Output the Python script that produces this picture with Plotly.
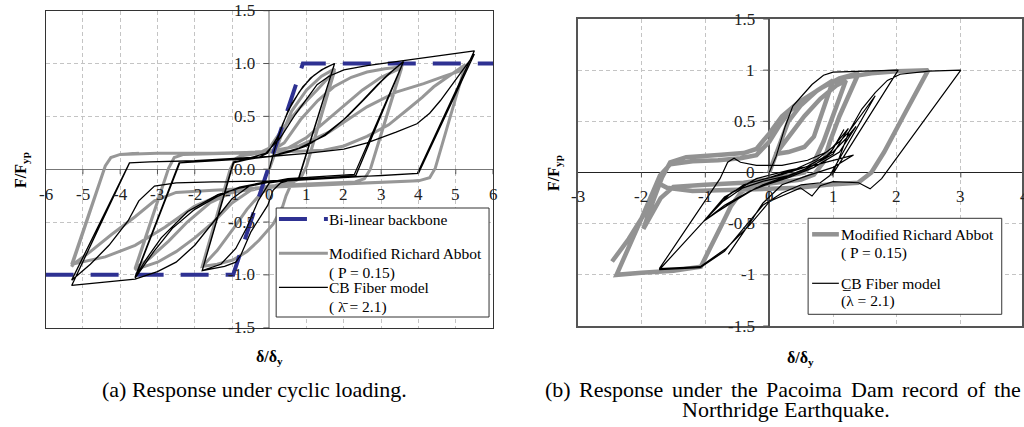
import plotly.graph_objects as go

FONT = "Liberation Serif"

# ---------------- (a) cyclic loading ----------------
bilinear_x = [-6, -0.97, 0.9, 6]
bilinear_y = [-1.0, -1.0, 1.0, 1.0]

# CB fiber model, panel (a): (delta/delta_y, F/F_yp)
cb_a_pts = [
    (0, 0), (0.15, 0.2), (0.35, 0.42), (0.6, 0.62), (0.9, 0.78), (1.2, 0.89), (1.5, 0.96), (1.75, 1.0),
    (0.8, -0.08),
    (0.3, -0.13), (0.1, -0.2), (-0.04, -0.34), (-0.49, -0.59), (-0.76, -0.81), (-0.9, -0.88), (-1.2, -0.92), (-1.8, -0.96),
    (-0.97, 0.06),
    (-0.6, 0.09), (-0.3, 0.11), (-0.05, 0.15), (0.25, 0.32), (0.5, 0.55), (0.8, 0.73), (1.1, 0.86), (1.4, 0.94), (1.75, 1.0),
    (0.78, -0.09),
    (0.4, -0.11), (0.0, -0.13), (-0.3, -0.3), (-0.6, -0.55), (-0.9, -0.75), (-1.3, -0.9), (-1.8, -0.96),
    (-0.95, 0.07),
    (-0.5, 0.1), (0.0, 0.12), (0.5, 0.16), (1.0, 0.22), (1.5, 0.33), (2.0, 0.47), (2.5, 0.65), (2.9, 0.8), (3.2, 0.9), (3.6, 1.02),
    (2.28, -0.05),
    (1.5, -0.07), (0.5, -0.09), (-0.1, -0.13), (-0.8, -0.18), (-1.38, -0.24), (-2.19, -0.4), (-2.9, -0.65), (-3.3, -0.85), (-3.6, -1.02),
    (-2.42, 0.06),
    (-1.5, 0.08), (-0.5, 0.1), (0.0, 0.12), (0.8, 0.2), (1.5, 0.32), (2.1, 0.5), (2.6, 0.68), (3.0, 0.83), (3.3, 0.93), (3.6, 1.02),
    (2.32, -0.06),
    (1.5, -0.08), (0.5, -0.1), (-0.1, -0.12), (-0.8, -0.17), (-1.4, -0.26), (-2.0, -0.38), (-2.6, -0.56), (-3.1, -0.78), (-3.6, -1.03),
    (-2.4, 0.06),
    (-1.5, 0.08), (-0.6, 0.1), (-0.1, 0.15), (0.3, 0.3), (0.7, 0.52), (1.28, 0.8), (1.6, 0.88), (2.0, 0.94), (2.62, 0.98), (3.6, 1.03), (4.5, 1.07), (5.5, 1.12),
    (3.97, -0.04),
    (3.0, -0.06), (2.0, -0.08), (1.0, -0.1), (0.0, -0.12), (-0.5, -0.15), (-1.0, -0.28), (-1.5, -0.5), (-2.0, -0.72), (-2.5, -0.88), (-3.0, -0.97), (-3.6, -1.04), (-4.4, -1.07), (-5.3, -1.1),
    (-3.75, 0.06),
    (-3.2, 0.07), (-2.0, 0.08), (-1.0, 0.1), (0.0, 0.12), (1.0, 0.15), (2.0, 0.19), (2.62, 0.25), (3.4, 0.35), (3.96, 0.43), (4.3, 0.53), (4.59, 0.65), (4.9, 0.8), (5.2, 0.95), (5.5, 1.09),
    (4.0, -0.04),
    (3.0, -0.06), (1.5, -0.08), (0.0, -0.11), (-1.5, -0.12), (-2.5, -0.13), (-3.08, -0.16), (-3.5, -0.3), (-3.79, -0.49), (-4.3, -0.72), (-4.8, -0.9), (-5.3, -1.05),
    (-3.75, 0.06),
]

# Modified Richard Abbot, panel (a)
mra_a_pts = [
    (0, 0), (0.3, 0.3), (0.6, 0.55), (1.0, 0.75), (1.4, 0.88), (1.75, 0.95),
    (1.0, 0.03), (0.85, -0.08), (0.6, -0.13), (0.45, -0.25), (0.36, -0.35), (0.1, -0.52), (-0.27, -0.67), (-0.6, -0.78), (-0.98, -0.86), (-1.4, -0.9), (-1.8, -0.92),
    (-1.05, 0.0), (-0.9, 0.1), (-0.7, 0.13),
    (-0.3, 0.15), (0.0, 0.2), (0.39, 0.4), (0.84, 0.59), (1.28, 0.75), (1.6, 0.87), (1.75, 0.93),
    (1.0, 0.03), (0.85, -0.08), (0.6, -0.12),
    (0.2, -0.15), (-0.2, -0.22), (-0.6, -0.38), (-1.0, -0.58), (-1.4, -0.77), (-1.8, -0.92),
    (-1.05, 0.0), (-0.9, 0.1), (-0.7, 0.14),
    (0.0, 0.16), (0.4, 0.25), (0.84, 0.47), (1.3, 0.65), (1.73, 0.78), (2.2, 0.87), (2.62, 0.92), (3.1, 0.95), (3.55, 0.97),
    (2.71, 0.0), (2.55, -0.09), (2.3, -0.12),
    (1.0, -0.14), (0.0, -0.16), (-0.5, -0.2), (-1.0, -0.32), (-1.5, -0.5), (-2.0, -0.65), (-2.5, -0.78), (-3.0, -0.88), (-3.6, -0.95),
    (-2.7, 0.01), (-2.55, 0.11), (-2.3, 0.14),
    (-1.0, 0.15), (0.0, 0.16), (0.5, 0.2), (1.0, 0.3), (1.5, 0.45), (2.0, 0.6), (2.5, 0.75), (3.0, 0.87), (3.55, 0.96),
    (2.71, 0.0), (2.55, -0.09), (2.3, -0.12),
    (1.0, -0.14), (0.0, -0.16), (-1.0, -0.22), (-1.6, -0.32), (-2.2, -0.5), (-2.7, -0.68), (-3.2, -0.84), (-3.6, -0.94),
    (-2.7, 0.01), (-2.55, 0.11), (-2.3, 0.14),
    (-1.0, 0.15), (0.0, 0.17), (0.8, 0.22), (1.6, 0.35), (2.62, 0.59), (3.4, 0.73), (4.14, 0.81), (4.7, 0.88), (5.12, 0.93), (5.26, 0.99),
    (4.45, 0.01), (4.3, -0.08), (4.0, -0.11),
    (2.5, -0.13), (1.0, -0.15), (0.0, -0.17), (-1.0, -0.2), (-2.0, -0.35), (-2.8, -0.55), (-3.6, -0.72), (-4.4, -0.83), (-5.3, -0.9),
    (-4.4, 0.03), (-4.25, 0.11), (-4.0, 0.14),
    (-3.0, 0.15), (-1.5, 0.15), (0.0, 0.16), (0.8, 0.17), (1.46, 0.18), (2.0, 0.22), (2.62, 0.31), (3.2, 0.42), (3.69, 0.56), (4.1, 0.68), (4.41, 0.78), (4.9, 0.9), (5.26, 0.99),
    (4.45, 0.01), (4.3, -0.08), (4.0, -0.11),
    (2.0, -0.14), (0.0, -0.17), (-1.5, -0.2), (-2.5, -0.22), (-3.08, -0.3), (-3.6, -0.45), (-4.24, -0.62), (-4.8, -0.78), (-5.22, -0.89), (-5.3, -0.92),
    (-4.4, 0.03), (-4.25, 0.11), (-4.0, 0.14), (-3.5, 0.15),
]

# ---------------- (b) Pacoima Dam record ----------------
cb_b_pts = [
    (0, 0), (0.05, 0.08), (0.11, 0.16), (0.25, 0.45), (0.37, 0.65), (0.5, 0.74), (0.67, 0.86), (0.85, 0.95), (1.0, 0.98), (1.5, 0.99), (2.02, 1.0),
    (0.98, -0.03),
    (1.1, 0.15), (1.25, 0.4), (1.45, 0.62), (1.66, 0.78), (1.85, 0.9), (2.05, 0.96), (2.5, 0.99), (3.0, 1.0),
    (1.76, -0.06), (1.58, -0.16), (1.4, -0.1), (1.0, -0.09), (0.8, -0.13), (0.67, -0.23), (0.49, -0.15), (0.01, -0.28), (-0.3, -0.51), (-0.67, -0.74), (-1.08, -0.92), (-1.72, -0.94),
    (-0.77, -0.06), (-0.65, 0.1), (-0.55, 0.14), (-0.45, 0.1), (-0.2, 0.07), (0.2, 0.07), (0.6, 0.12), (0.9, 0.2), (1.1, 0.3), (1.25, 0.4), (1.4, 0.53), (1.66, 0.75),
    (0.95, -0.03), (0.8, -0.1), (0.5, -0.12), (0.2, -0.2), (-0.1, -0.32), (-0.4, -0.55), (-0.7, -0.77), (-1.08, -0.93), (-1.72, -0.95),
    (-1.03, -0.48),
    (-0.72, -0.28), (-0.41, -0.15), (-0.09, -0.085), (0.3, -0.03), (0.6, 0.04), (0.85, 0.13), (1.0, 0.23), (1.17, 0.42),
    (0.95, 0.18), (0.7, 0.07), (0.3, -0.03), (-0.1, -0.12), (-0.5, -0.25), (-1.03, -0.48),
    (-0.72, -0.26), (-0.4, -0.12), (0.0, -0.05), (0.4, 0.03), (0.75, 0.13), (1.0, 0.25), (1.24, 0.43),
    (1.0, 0.18), (0.6, 0.04), (0.2, -0.06), (-0.3, -0.18), (-0.7, -0.32), (-1.03, -0.48),
    (-0.7, -0.24), (-0.3, -0.1), (0.2, -0.02), (0.6, 0.06), (1.0, 0.2), (1.2, 0.33), (1.36, 0.45),
    (1.1, 0.2), (0.7, 0.05), (0.3, -0.05), (-0.2, -0.15), (-0.6, -0.3), (-1.0, -0.46),
    (-0.6, -0.2), (-0.2, -0.06), (0.3, 0.02), (0.7, 0.07), (1.0, 0.12), (1.32, 0.17),
    (1.0, 0.05), (0.6, -0.03), (0.2, -0.12), (-0.1, -0.3), (-0.3, -0.49), (-0.64, -0.8),
]

mra_b_pts = [
    (0, 0), (0.15, 0.25), (0.3, 0.5), (0.5, 0.66), (0.75, 0.8), (1.0, 0.9),
    (0.82, 0.55), (0.7, 0.35), (0.55, 0.25), (0.3, 0.2), (0.1, 0.18), (0.3, 0.35), (0.55, 0.55), (0.8, 0.72), (1.05, 0.85), (1.2, 0.9),
    (1.0, 0.55), (0.85, 0.3), (0.7, 0.1), (0.55, 0.0), (0.1, -0.06), (-0.4, -0.1), (-1.0, -0.12), (-1.5, -0.14), (-1.7, -0.25), (-1.85, -0.42), (-1.97, -0.55),
    (-1.8, -0.25), (-1.68, -0.05), (-1.55, 0.1), (-1.3, 0.15), (-0.8, 0.17), (-0.4, 0.19), (-0.2, 0.23), (0.0, 0.38), (0.2, 0.55), (0.45, 0.68), (0.8, 0.82), (1.1, 0.92), (1.4, 0.97),
    (1.1, 0.55), (0.95, 0.3), (0.85, 0.1), (0.7, -0.02), (0.5, -0.07), (0.1, -0.1), (-0.3, -0.13), (-0.45, -0.2), (-0.6, -0.33), (-0.75, -0.52), (-0.87, -0.66), (-0.95, -0.77), (-1.07, -0.92), (-1.5, -0.96), (-2.0, -0.98), (-2.39, -1.0),
    (-2.0, -0.45), (-1.8, -0.15), (-1.71, -0.03), (-1.55, 0.08), (-1.2, 0.11), (-0.8, 0.12), (-0.45, 0.14), (-0.2, 0.17), (0.0, 0.3), (0.15, 0.45), (0.32, 0.6), (0.6, 0.74), (0.9, 0.86), (1.2, 0.93), (1.6, 0.97), (2.0, 0.99), (2.49, 1.0),
    (2.1, 0.55), (1.8, 0.2), (1.6, 0.0), (1.45, -0.08), (1.39, -0.1), (0.9, -0.12), (0.46, -0.15), (0.0, -0.16), (-0.6, -0.17), (-1.2, -0.18), (-1.6, -0.15), (-1.75, -0.1), (-1.95, -0.4), (-2.2, -0.65), (-2.46, -0.87),
]

# tick labels
a_xticks = [-6, -5, -4, -3, -2, -1, 0, 1, 2, 3, 4, 5, 6]
a_yticks = [1.5, 1.0, 0.5, 0.0, -0.5, -1.0, -1.5]
a_ylabels = ["1.5", "1.0", "0.5", "0.0", "-0.5", "-1.0", "-1.5"]
b_xticks = [-3, -2, -1, 0, 1, 2, 3]
b_yticks = [1.5, 1.0, 0.5, 0.0, -0.5, -1.0, -1.5]
b_ylabels = ["1.5", "1", "0.5", "0", "-0.5", "-1", "-1.5"]

GRAY = "#979797"
BLUE = "#2e3192"


def xs(p):
    return [a for a, b in p]


def ys(p):
    return [b for a, b in p]


def PX(v):
    return v / 1024.0


def PY(v):
    return 1 - v / 427.0


fig = go.Figure()
fig.add_trace(go.Scatter(x=xs(mra_a_pts), y=ys(mra_a_pts), mode="lines",
                         line=dict(color=GRAY, width=3), xaxis="x", yaxis="y"))
fig.add_trace(go.Scatter(x=bilinear_x, y=bilinear_y, mode="lines",
                         line=dict(color=BLUE, width=4, dash="28px,17px"), xaxis="x", yaxis="y"))
fig.add_trace(go.Scatter(x=xs(cb_a_pts), y=ys(cb_a_pts), mode="lines",
                         line=dict(color="black", width=1.3), xaxis="x", yaxis="y"))
fig.add_trace(go.Scatter(x=xs(mra_b_pts), y=ys(mra_b_pts), mode="lines",
                         line=dict(color="#929292", width=4.5), xaxis="x2", yaxis="y2"))
fig.add_trace(go.Scatter(x=xs(cb_b_pts), y=ys(cb_b_pts), mode="lines",
                         line=dict(color="black", width=1.2), xaxis="x2", yaxis="y2"))

grid = dict(showgrid=True, gridcolor="#c4c4c4", griddash="4px,3px", gridwidth=1,
            showticklabels=False, ticks="", showline=True, mirror=True)

fig.update_layout(
    width=1024, height=427, margin=dict(l=0, r=0, t=0, b=0),
    paper_bgcolor="white", plot_bgcolor="white", showlegend=False,
    font=dict(family=FONT, color="black"),
    xaxis=dict(domain=[PX(45.7), PX(494)], range=[-6, 6], dtick=1, zeroline=True,
               zerolinecolor="#b2b2b2", zerolinewidth=2, linecolor="#333333", linewidth=1,
               anchor="y", **grid),
    yaxis=dict(domain=[PY(327.7), PY(10.7)], range=[-1.5, 1.5], dtick=0.5, zeroline=True,
               zerolinecolor="#777777", zerolinewidth=1, linecolor="#333333", linewidth=1,
               anchor="x", **grid),
    xaxis2=dict(domain=[PX(578.7), 1.0], range=[-3, (1024 - 770.7) / 64.0], dtick=1, zeroline=True,
                zerolinecolor="#555555", zerolinewidth=1.5, linecolor="#555555", linewidth=1.5,
                anchor="y2", **grid),
    yaxis2=dict(domain=[PY(326), PY(19)], range=[-1.5, 1.5], dtick=0.5, zeroline=True,
                zerolinecolor="#222222", zerolinewidth=1, linecolor="#555555", linewidth=1.5,
                anchor="x2", **grid),
)

shapes = []
ann = []
TICKF = dict(family=FONT, size=17, color="#222222")

# small tick marks and tick labels, panel (a)
for v, lab in zip(a_yticks, a_ylabels):
    shapes.append(dict(type="line", xref="x", yref="y", xsizemode="pixel", xanchor=0,
                       x0=-6, x1=0, y0=v, y1=v, line=dict(color="#555555", width=1)))
    ann.append(dict(xref="x", yref="y", x=0, y=v, text=lab, showarrow=False,
                    xanchor="right", yanchor="middle", xshift=-12, font=TICKF))
for v in a_xticks:
    shapes.append(dict(type="line", xref="x", yref="y", ysizemode="pixel", yanchor=0,
                       x0=v, x1=v, y0=-5, y1=0, line=dict(color="#555555", width=1)))
    ann.append(dict(xref="x", yref="y", x=v, y=0, text=str(v), showarrow=False,
                    xanchor="center", yanchor="middle", yshift=-25, font=TICKF))

# panel (b)
for v, lab in zip(b_yticks, b_ylabels):
    shapes.append(dict(type="line", xref="x2", yref="y2", xsizemode="pixel", xanchor=0,
                       x0=-6, x1=0, y0=v, y1=v, line=dict(color="#555555", width=1)))
    ann.append(dict(xref="x2", yref="y2", x=0, y=v, text=lab, showarrow=False,
                    xanchor="right", yanchor="middle", xshift=-12, font=TICKF))
for v in b_xticks:
    shapes.append(dict(type="line", xref="x2", yref="y2", ysizemode="pixel", yanchor=0,
                       x0=v, x1=v, y0=-5, y1=0, line=dict(color="#555555", width=1)))
    ann.append(dict(xref="x2", yref="y2", x=v, y=0, text=str(v), showarrow=False,
                    xanchor="center", yanchor="middle", yshift=-24, font=TICKF))
ann.append(dict(xref="paper", yref="y2", x=PX(770.7 + 4 * 64), y=0, text="4", showarrow=False,
                xanchor="center", yanchor="middle", yshift=-24, font=TICKF))

# axis titles
TF = dict(family=FONT, size=16, color="black")
ann.append(dict(xref="paper", yref="paper", x=PX(21), y=PY(170), text="<b>F/F<sub>yp</sub></b>",
                textangle=-90, showarrow=False, xanchor="center", yanchor="middle", font=TF))
ann.append(dict(xref="paper", yref="paper", x=PX(555), y=PY(173), text="<b>F/F<sub>yp</sub></b>",
                textangle=-90, showarrow=False, xanchor="center", yanchor="middle", font=TF))
ann.append(dict(xref="paper", yref="paper", x=PX(270), y=PY(357), text="<b>δ/δ<sub>y</sub></b>",
                showarrow=False, xanchor="center", yanchor="middle", font=TF))
ann.append(dict(xref="paper", yref="paper", x=PX(802), y=PY(358), text="<b>δ/δ<sub>y</sub></b>",
                showarrow=False, xanchor="center", yanchor="middle", font=TF))

# captions
CF = dict(family=FONT, size=22, color="black")
ann.append(dict(xref="paper", yref="paper", x=PX(255), y=PY(389), text="(a) Response under cyclic loading.",
                showarrow=False, xanchor="center", yanchor="middle", font=CF))
cap_words = ["(b)", "Response", "under", "the", "Pacoima", "Dam", "record", "of", "the"]
cap_word_x = [545, 579.4, 672.5, 731.3, 766.9, 851.4, 902.9, 967.9, 995]
for w, x in zip(cap_words, cap_word_x):
    ann.append(dict(xref="paper", yref="paper", x=PX(x), y=PY(389), text=w, showarrow=False,
                    xanchor="left", yanchor="middle", font=CF, borderpad=0))
ann.append(dict(xref="paper", yref="paper", x=PX(788), y=PY(409), text="Northridge Earthquake.",
                showarrow=False, xanchor="center", yanchor="middle", font=CF))

# legend (a)
LF = dict(family=FONT, size=15.5, color="black")
shapes.append(dict(type="rect", xref="paper", yref="paper", x0=PX(276.7), x1=PX(490), y0=PY(317), y1=PY(208),
                   line=dict(color="#333333", width=1), fillcolor="white", layer="above"))
shapes.append(dict(type="line", xref="paper", yref="paper", x0=PX(279.5), x1=PX(328.5), y0=PY(219), y1=PY(219),
                   line=dict(color=BLUE, width=4, dash="28px,17px"), layer="above"))
shapes.append(dict(type="line", xref="paper", yref="paper", x0=PX(279.5), x1=PX(328.5), y0=PY(253.3), y1=PY(253.3),
                   line=dict(color=GRAY, width=3), layer="above"))
shapes.append(dict(type="line", xref="paper", yref="paper", x0=PX(279.5), x1=PX(328.5), y0=PY(287.3), y1=PY(287.3),
                   line=dict(color="black", width=1.3), layer="above"))
for t, yy in [("Bi-linear backbone", 219), ("Modified Richard Abbot", 253.3), ("( P = 0.15)", 272.7),
              ("CB Fiber model", 287.3), ("( λ\u0304 = 2.1)", 307)]:
    ann.append(dict(xref="paper", yref="paper", x=PX(329), y=PY(yy), text=t, showarrow=False,
                    xanchor="left", yanchor="middle", font=LF, borderpad=0))

# legend (b)
shapes.append(dict(type="rect", xref="paper", yref="paper", x0=PX(809.7), x1=PX(1003.7), y0=PY(314.3), y1=PY(218.3),
                   line=dict(color="#333333", width=1), fillcolor="white", layer="above"))
shapes.append(dict(type="line", xref="paper", yref="paper", x0=PX(813.7), x1=PX(840.5), y0=PY(234.3), y1=PY(234.3),
                   line=dict(color="#929292", width=4.5), layer="above"))
shapes.append(dict(type="line", xref="paper", yref="paper", x0=PX(813.7), x1=PX(840.5), y0=PY(283.3), y1=PY(283.3),
                   line=dict(color="black", width=1.2), layer="above"))
for t, yy in [("Modified Richard Abbot", 234.3), ("( P = 0.15)", 253), ("C\u0332B Fiber model", 283.3),
              ("(λ = 2.1)", 301)]:
    ann.append(dict(xref="paper", yref="paper", x=PX(842), y=PY(yy), text=t, showarrow=False,
                    xanchor="left", yanchor="middle", font=LF, borderpad=0))

fig.update_layout(shapes=shapes, annotations=ann)
fig.write_html("out.html")
